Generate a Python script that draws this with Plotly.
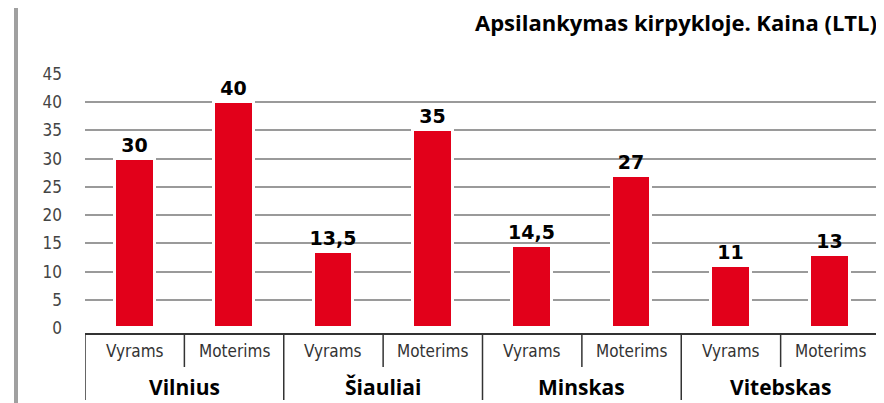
import plotly.graph_objects as go

cities = ["Vilnius", "Šiauliai", "Minskas", "Vitebskas"]
genders = ["Vyrams", "Moterims"]
prices = [30, 40, 13.5, 35, 14.5, 27, 11, 13]
y_ticks = [0, 5, 10, 15, 20, 25, 30, 35, 40, 45]
title_text = "Apsilankymas kirpykloje. Kaina (LTL)"

RED = "#E2001A"
GRID = "#9a9a9a"
LINE = "#333333"
NARROW = "Liberation Sans Narrow, DejaVu Sans Condensed, Open Sans, sans-serif"

# page body has an 8px margin; figure sized to fit the window exactly
OFF = 8
W, H = 884 - OFF, 403 - OFF
PL, PR = 85, 880          # plot left/right in window pixels
PT, PB = 74, 333          # plot top/bottom in window pixels

n = len(prices)
xs = list(range(n))
sub_labels = [genders[i % 2] for i in range(n)]
texts = [("%g" % v).replace(".", ",") for v in prices]

fig = go.Figure()
fig.add_trace(go.Bar(
    x=xs, y=prices, width=0.4,
    marker=dict(color=RED, line=dict(color="white", width=3)),
    text=texts, textposition="outside", cliponaxis=False, constraintext="none",
    textfont=dict(family="DejaVu Sans", size=19, color="black", weight="bold"),
    hoverinfo="skip",
))
fig.add_trace(go.Scatter(x=[xs[0]], y=[0], yaxis="y2", mode="markers",
                         marker=dict(opacity=0), hoverinfo="skip", showlegend=False))

fig.update_layout(
    width=W, height=H,
    margin=dict(l=PL - OFF, r=W - (PR - OFF), t=PT - OFF, b=H - (PB - OFF), pad=0),
    plot_bgcolor="white", paper_bgcolor="white",
    showlegend=False, bargap=0,
    xaxis=dict(range=[-0.5, n - 0.5], showgrid=False, zeroline=False,
               showticklabels=False, showline=True, linecolor=LINE, linewidth=1.5,
               fixedrange=True),
    yaxis=dict(range=[-0.886, 45], tickvals=y_ticks, ticktext=[str(t) for t in y_ticks],
               showgrid=False, zeroline=False, showline=False, ticks="",
               tickfont=dict(family=NARROW, size=17, color="#444444"), ticklabelstandoff=22),
    yaxis2=dict(range=[-0.886, 45], overlaying="y", tickvals=y_ticks[1:],
                showgrid=True, gridcolor=GRID, gridwidth=1.5, zeroline=False,
                showticklabels=False, ticks=""),
)

ph = PB - PT
pw = PR - PL
def py(pix):
    return (PB - pix) / ph
def px(pix):
    return (pix - PL) / pw

fig.add_annotation(text="<b>" + title_text + "</b>", xref="paper", yref="paper",
                   x=px(879), y=py(22), xanchor="right", yanchor="middle", showarrow=False,
                   font=dict(family="Open Sans", size=22, color="black"))

# category axis dividers
fig.add_shape(type="line", xref="x", yref="paper", x0=-0.5, x1=-0.5, y0=py(PB), y1=py(400),
              line=dict(color=LINE, width=1.5))
for i in range(1, n + 1):
    xb = i - 0.5
    y1 = py(400) if i % 2 == 0 else py(367)
    fig.add_shape(type="line", xref="x", yref="paper", x0=xb, x1=xb, y0=py(PB), y1=y1,
                  line=dict(color=LINE, width=1.5))

for i, lab in enumerate(sub_labels):
    fig.add_annotation(text=lab, x=xs[i], xref="x", yref="paper", y=py(351),
                       showarrow=False, yanchor="middle",
                       font=dict(family=NARROW, size=17, color="#333333"))
for j, c in enumerate(cities):
    fig.add_annotation(text="<b>" + c + "</b>", x=2 * j + 0.5, xref="x", yref="paper", y=py(403),
                       showarrow=False, yanchor="bottom",
                       font=dict(family="Open Sans", size=21, color="black"))

# left gray strip
fig.add_shape(type="rect", xref="paper", yref="paper",
              x0=px(14), x1=px(18), y0=py(410), y1=py(-10),
              fillcolor="#a0a0a0", line=dict(width=0), layer="below")

fig.write_html("out.html")
